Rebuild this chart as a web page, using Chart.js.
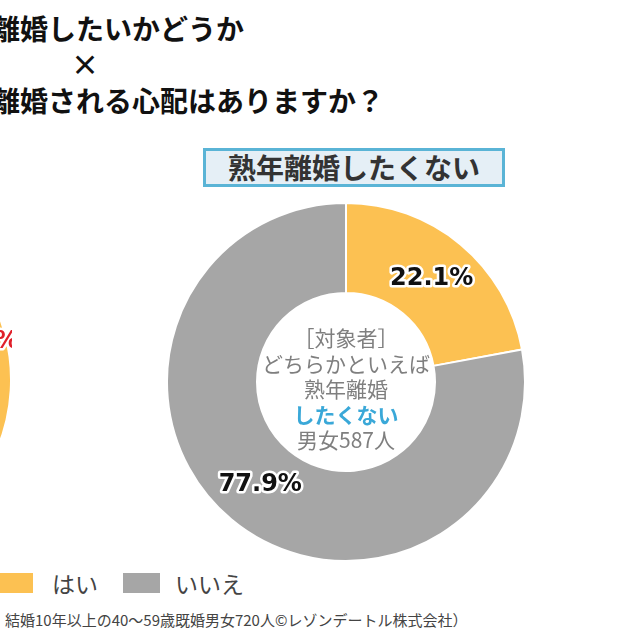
<!DOCTYPE html>
<html lang="ja">
<head>
<meta charset="utf-8">
<script src="https://cdn.jsdelivr.net/npm/chart.js@4"></script>
<style>
  html, body { margin: 0; padding: 0; }
  body { width: 640px; height: 640px; position: relative; overflow: hidden; background: #fff;
         font-family: "Noto Sans CJK JP", "Noto Sans", sans-serif; color: #333; }
  .abs { position: absolute; white-space: nowrap; }
  .title { font-size: 28px; font-weight: bold; color: #111; line-height: 1; }
  #box { left: 203px; top: 148px; width: 296px; height: 33px; border: 3px solid #5ab4d6; background: #e5eff6;
         font-size: 28px; font-weight: bold; color: #333; text-align: center; line-height: 33px; }
  #center { left: 246px; top: 325px; width: 200px; text-align: center; font-size: 21px; line-height: 25.5px; color: #7f7f7f; }
  #center b { color: #3aa8d8; }
  .sw { width: 37px; height: 20px; top: 573px; }
  .lg { font-size: 23px; color: #444; top: 568px; line-height: 30px; }
  #note { left: 5px; top: 610px; font-size: 15px; color: #444; line-height: 20px; }
  canvas { position: absolute; }
</style>
</head>
<body>
<div class="abs title" style="left:-8px; top:14px;">離婚したいかどうか</div>
<div class="abs title" style="left:71px; top:50px;">×</div>
<div class="abs title" style="left:-8px; top:86px;">離婚される心配はありますか？</div>

<canvas id="leftChart" width="360" height="360" style="left:-348px; top:200px;"></canvas>
<canvas id="mainChart" width="360" height="360" style="left:166px; top:202px;"></canvas>

<div id="box" class="abs">熟年離婚したくない</div>
<div id="center" class="abs">［対象者］<br>どちらかといえば<br>熟年離婚<br><b>したくない</b><br>男女587人</div>

<div class="abs sw" style="left:-4px; background:#fcc152;"></div>
<div class="abs lg" style="left:52px;">はい</div>
<div class="abs sw" style="left:123px; background:#a6a6a6;"></div>
<div class="abs lg" style="left:175px;">いいえ</div>
<div id="note" class="abs">結婚10年以上の40～59歳既婚男女720人©レゾンデートル株式会社）</div>

<script>
const categories = ['はい', 'いいえ'];
const notWantValues = [22.1, 77.9];   // 熟年離婚したくない (587人)
const wantValues = [41.7, 58.3];      // 熟年離婚したい (left, mostly cropped)
const colors = ['#fcc152', '#a6a6a6'];

// percentage labels drawn at a point inside each slice
const pctLabels = {
  id: 'pctLabels',
  afterDatasetsDraw(chart, args, opts) {
    const ctx = chart.ctx;
    const meta = chart.getDatasetMeta(0);
    ctx.save();
    ctx.font = 'bold 24px "DejaVu Sans", sans-serif';
    ctx.textAlign = 'center';
    ctx.textBaseline = 'middle';
    ctx.lineJoin = 'round';
    meta.data.forEach((arc, i) => {
      const p = arc.getProps(['x', 'y', 'startAngle', 'endAngle', 'innerRadius', 'outerRadius'], true);
      const mid = (p.startAngle + p.endAngle) / 2;
      const r = p.innerRadius + (p.outerRadius - p.innerRadius) * opts.pos;
      const x = p.x + Math.cos(mid) * r;
      const y = p.y + Math.sin(mid) * r;
      const txt = chart.data.datasets[0].data[i].toFixed(1) + '%';
      ctx.lineWidth = 5;
      ctx.strokeStyle = '#fff';
      ctx.strokeText(txt, x, y);
      ctx.fillStyle = opts.color;
      ctx.fillText(txt, x, y);
    });
    ctx.restore();
  }
};

function makeDonut(id, values, labelColor, labelPos) {
  return new Chart(document.getElementById(id), {
    type: 'doughnut',
    data: {
      labels: categories,
      datasets: [{
        data: values,
        backgroundColor: colors,
        borderColor: '#fff',
        borderWidth: 2
      }]
    },
    options: {
      responsive: false,
      animation: false,
      radius: 179,
      cutout: 89,
      plugins: {
        legend: { display: false },
        tooltip: { enabled: false },
        pctLabels: { color: labelColor, pos: labelPos }
      }
    },
    plugins: [pctLabels]
  });
}

makeDonut('leftChart', wantValues, '#e0202a', 0.68);
makeDonut('mainChart', notWantValues, '#111', 0.5);
</script>
</body>
</html>
